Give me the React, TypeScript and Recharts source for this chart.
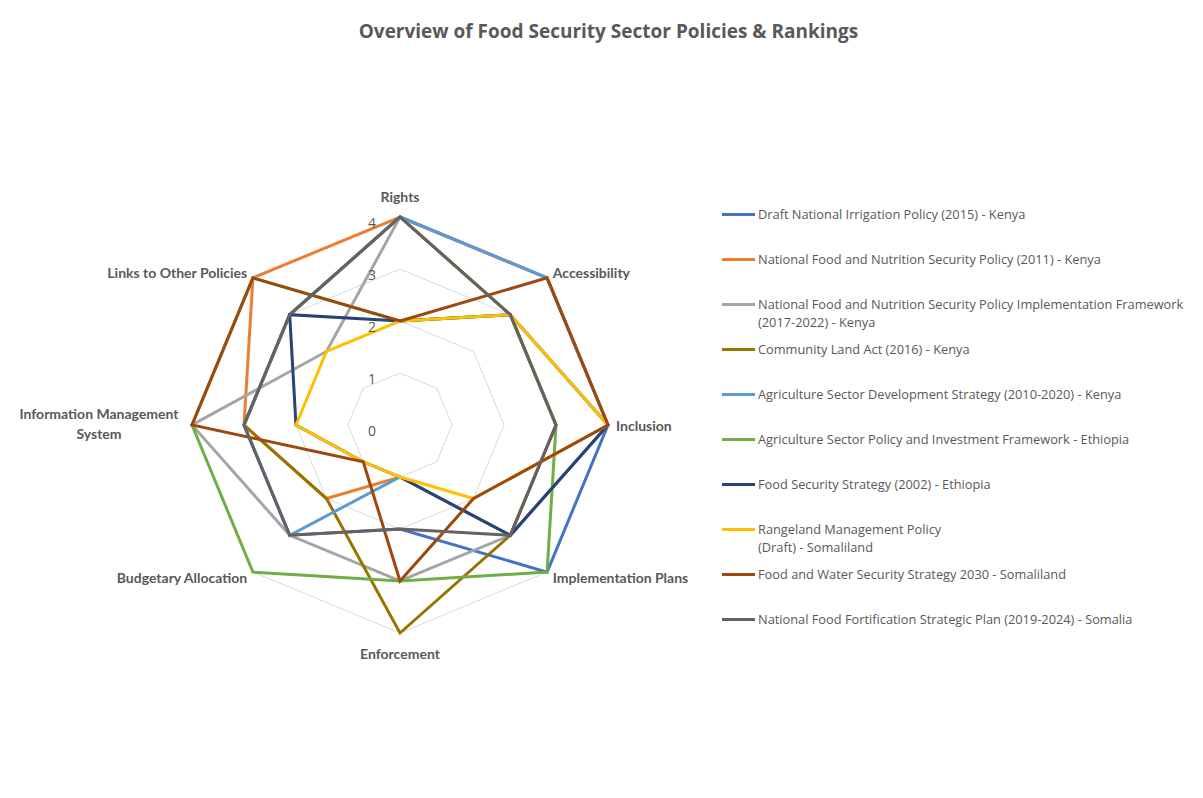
import React from 'react';
import { RadarChart, Radar, PolarGrid, PolarAngleAxis, PolarRadiusAxis } from 'recharts';

// axes, clockwise from the top
const CATEGORIES = [
  'Rights',
  'Accessibility',
  'Inclusion',
  'Implementation Plans',
  'Enforcement',
  'Budgetary Allocation',
  'Information Management\nSystem',
  'Links to Other Policies',
];

const RADIUS_TICKS = [0, 1, 2, 3, 4];

// scores per policy, same order as CATEGORIES
const irrigationKenya = [4, 4, 4, 4, 2, 3, 3, 3];
const nutritionPolicyKenya = [4, 4, 4, 3, 1, 2, 3, 4];
const nutritionFrameworkKenya = [4, 3, 3, 3, 3, 3, 4, 2];
const communityLandKenya = [4, 3, 3, 3, 4, 2, 3, 3];
const agriDevelopmentKenya = [4, 4, 4, 3, 1, 3, 3, 3];
const agriInvestmentEthiopia = [2, 3, 3, 4, 3, 4, 4, 4];
const foodSecurityEthiopia = [2, 3, 4, 3, 1, 1, 2, 3];
const rangelandSomaliland = [2, 3, 4, 2, 1, 1, 2, 2];
const foodWaterSomaliland = [2, 4, 4, 2, 3, 1, 4, 4];
const fortificationSomalia = [4, 3, 3, 3, 2, 3, 3, 3];

const SERIES = [
  { key: 's1', name: 'Draft National Irrigation Policy (2015) - Kenya', color: '#4472C4', values: irrigationKenya },
  { key: 's2', name: 'National Food and Nutrition Security Policy (2011) - Kenya', color: '#ED7D31', values: nutritionPolicyKenya },
  {
    key: 's3',
    name: 'National Food and Nutrition Security Policy Implementation Framework\n(2017-2022) - Kenya',
    color: '#A5A5A5',
    values: nutritionFrameworkKenya,
  },
  { key: 's4', name: 'Community Land Act (2016) - Kenya', color: '#997300', values: communityLandKenya },
  { key: 's5', name: 'Agriculture Sector Development Strategy (2010-2020) - Kenya', color: '#5B9BD5', values: agriDevelopmentKenya },
  { key: 's6', name: 'Agriculture Sector Policy and Investment Framework - Ethiopia', color: '#70AD47', values: agriInvestmentEthiopia },
  { key: 's7', name: 'Food Security Strategy (2002) - Ethiopia', color: '#264478', values: foodSecurityEthiopia },
  { key: 's8', name: 'Rangeland Management Policy\n(Draft) - Somaliland', color: '#FFC000', values: rangelandSomaliland },
  { key: 's9', name: 'Food and Water Security Strategy 2030 - Somaliland', color: '#9E480E', values: foodWaterSomaliland },
  { key: 's10', name: 'National Food Fortification Strategic Plan (2019-2024) - Somalia', color: '#636363', values: fortificationSomalia },
];

const chartData = CATEGORIES.map((axis, i) => {
  const row: Record<string, string | number> = { axis };
  SERIES.forEach(s => {
    row[s.key] = s.values[i];
  });
  return row;
});

const TEXT = '#595959';
const CX = 393;
const CY = 419;

function AngleTick(props: any) {
  const { x, y, payload, textAnchor } = props;
  const lines: string[] = String(payload.value).split('\n');
  let dy = 0;
  if (textAnchor === 'middle') dy = y < CY ? -13 : 12;
  if (lines.length > 1) {
    return (
      <text
        x={x - 85}
        y={y}
        textAnchor="middle"
        fill={TEXT}
        fontFamily="Lato"
        fontWeight="bold"
        fontSize={14}
      >
        <tspan x={x - 85} dy={-6}>{lines[0]}</tspan>
        <tspan x={x - 85} dy={20}>{lines[1]}</tspan>
      </text>
    );
  }
  return (
    <text
      x={x}
      y={y + dy}
      textAnchor={textAnchor}
      dominantBaseline="central"
      fill={TEXT}
      fontFamily="Lato"
      fontWeight="bold"
      fontSize={14}
    >
      {lines[0]}
    </text>
  );
}

function RadiusTick(props: any) {
  const { x, y, payload } = props;
  return (
    <text
      x={x - 28}
      y={y + 5}
      textAnchor="middle"
      dominantBaseline="central"
      fill={TEXT}
      fontFamily="Open Sans"
      fontSize={14}
    >
      {payload.value}
    </text>
  );
}

export default function App() {
  return (
    <div
      style={{
        position: 'relative',
        width: 1195,
        height: 790,
        marginLeft: -2,
        marginTop: -3,
        borderLeft: '1px solid #d9d9d9',
        borderTop: '1px solid #d9d9d9',
        background: '#fff',
      }}
    >
      <div
        style={{
          position: 'absolute',
          left: 0,
          width: 1203,
          top: 12,
          textAlign: 'center',
          fontFamily: 'Open Sans',
          fontWeight: 'bold',
          fontSize: 19,
          color: TEXT,
        }}
      >
        Overview of Food Security Sector Policies &amp; Rankings
      </div>

      <div style={{ position: 'absolute', left: 0, top: 0 }}>
        <RadarChart
          width={700}
          height={790}
          data={chartData}
          cx={CX}
          cy={CY}
          outerRadius={208}
          margin={{ top: 0, right: 0, bottom: 0, left: 0 }}
        >
          <PolarGrid gridType="polygon" radialLines={false} stroke="#d9d9d9" />
          <PolarAngleAxis dataKey="axis" tick={<AngleTick />} tickLine={false} axisLine={false} />
          <PolarRadiusAxis
            angle={90}
            domain={[0, 4]}
            ticks={RADIUS_TICKS as any}
            tickCount={5}
            axisLine={false}
            tick={<RadiusTick />}
          />
          {SERIES.map(s => (
            <Radar
              key={s.key}
              name={s.name}
              dataKey={s.key}
              stroke={s.color}
              strokeWidth={3}
              fill="none"
              fillOpacity={0}
              dot={false}
              isAnimationActive={false}
            />
          ))}
        </RadarChart>
      </div>

      <div style={{ position: 'absolute', left: 715, top: 199 }}>
        {SERIES.map(s => (
          <div key={s.key} style={{ display: 'flex', height: 45, alignItems: 'flex-start' }}>
            <div style={{ width: 33, height: 3, marginTop: 7.5, background: s.color, flexShrink: 0 }} />
            <div
              style={{
                marginLeft: 3,
                fontFamily: 'Open Sans',
                fontSize: 12.8,
                lineHeight: '18px',
                color: TEXT,
                whiteSpace: 'pre',
              }}
            >
              {s.name}
            </div>
          </div>
        ))}
      </div>
    </div>
  );
}
